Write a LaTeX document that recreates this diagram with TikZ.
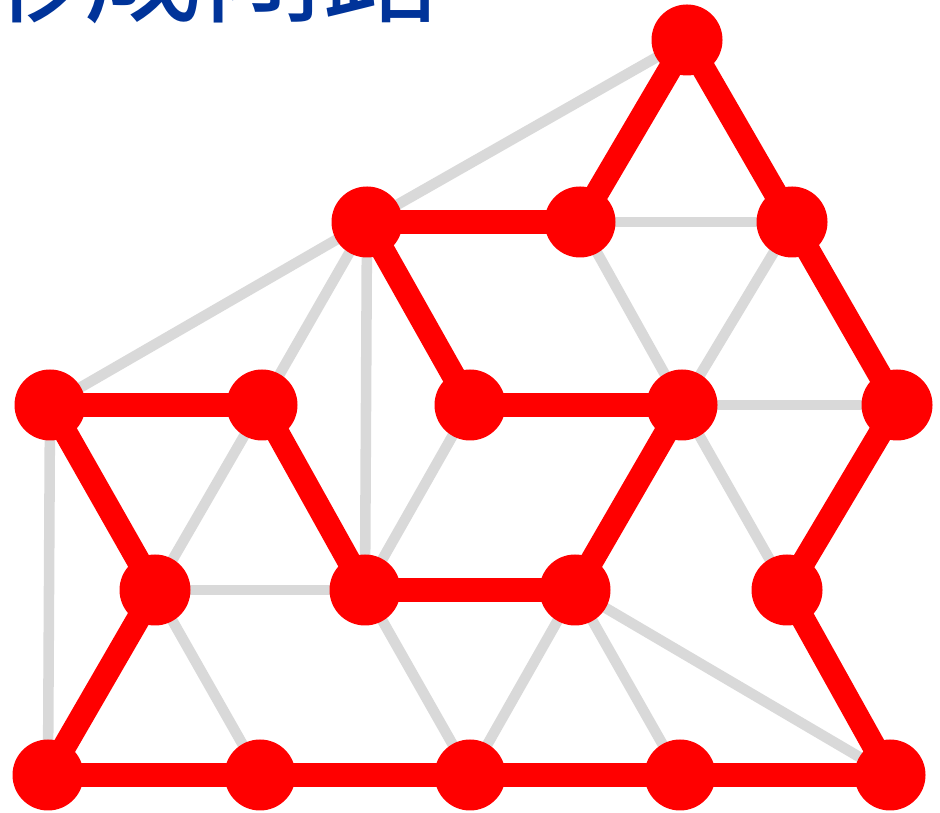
\documentclass[tikz,border=0pt]{standalone}
\usepackage{fontspec}
\usetikzlibrary{backgrounds}
\newfontfamily\cjkfont{Noto Sans CJK SC}
\definecolor{titleblue}{RGB}{0,51,153}
\definecolor{edgegray}{RGB}{217,217,217}
\definecolor{pathred}{RGB}{255,0,0}
\begin{document}
\begin{tikzpicture}[
  dot/.style={circle, fill=pathred, inner sep=0pt, minimum size=1.42cm},
  lat/.style={edgegray, line width=6pt},
  cyc/.style={pathred, line width=13.5pt}]
\useasboundingbox (0,0) rectangle (18.8,16.26);
\node[anchor=south east, inner sep=0pt, text=titleblue, font=\cjkfont\fontsize{68}{68}\selectfont] (title) at (8.85,15.78) {形成闭路};
% bottom row
\node[dot] (a1) at (0.96,0.76) {};
\node[dot] (a2) at (5.2,0.76) {};
\node[dot] (a3) at (9.4,0.76) {};
\node[dot] (a4) at (13.6,0.76) {};
\node[dot] (a5) at (17.8,0.76) {};
\node[dot] (b1) at (3.1,4.46) {};
\node[dot] (b2) at (7.3,4.46) {};
\node[dot] (b3) at (11.5,4.46) {};
\node[dot] (b4) at (15.74,4.46) {};
\node[dot] (c1) at (1.0,8.16) {};
\node[dot] (c2) at (5.24,8.16) {};
\node[dot] (c3) at (9.4,8.16) {};
\node[dot] (c4) at (13.64,8.16) {};
\node[dot] (c5) at (17.94,8.16) {};
\node[dot] (d1) at (7.34,11.82) {};
\node[dot] (d2) at (11.6,11.82) {};
\node[dot] (d3) at (15.84,11.82) {};
\node[dot] (t) at (13.74,15.46) {};
\begin{scope}[on background layer]
% grey lattice edges
\draw[lat] (c1.center) -- (a1.center);
\draw[lat] (c1.center) -- (d1.center);
\draw[lat] (d1.center) -- (t.center);
\draw[lat] (d1.center) -- (b2.center);
\draw[lat] (d1.center) -- (c2.center);
\draw[lat] (c2.center) -- (b1.center);
\draw[lat] (b1.center) -- (b2.center);
\draw[lat] (b1.center) -- (a2.center);
\draw[lat] (b2.center) -- (a3.center);
\draw[lat] (b2.center) -- (c3.center);
\draw[lat] (b3.center) -- (a3.center);
\draw[lat] (b3.center) -- (a4.center);
\draw[lat] (b3.center) -- (a5.center);
\draw[lat] (c4.center) -- (b4.center);
\draw[lat] (c4.center) -- (c5.center);
\draw[lat] (c4.center) -- (d2.center);
\draw[lat] (c4.center) -- (d3.center);
\draw[lat] (d2.center) -- (d3.center);
% the closed path
\draw[cyc] (a1.center) -- (a2.center);
\draw[cyc] (a2.center) -- (a3.center);
\draw[cyc] (a3.center) -- (a4.center);
\draw[cyc] (a4.center) -- (a5.center);
\draw[cyc] (a5.center) -- (b4.center);
\draw[cyc] (b4.center) -- (c5.center);
\draw[cyc] (c5.center) -- (d3.center);
\draw[cyc] (d3.center) -- (t.center);
\draw[cyc] (t.center) -- (d2.center);
\draw[cyc] (d2.center) -- (d1.center);
\draw[cyc] (d1.center) -- (c3.center);
\draw[cyc] (c3.center) -- (c4.center);
\draw[cyc] (c4.center) -- (b3.center);
\draw[cyc] (b3.center) -- (b2.center);
\draw[cyc] (b2.center) -- (c2.center);
\draw[cyc] (c2.center) -- (c1.center);
\draw[cyc] (c1.center) -- (b1.center);
\draw[cyc] (b1.center) -- (a1.center);
\end{scope}
\end{tikzpicture}
\end{document}
